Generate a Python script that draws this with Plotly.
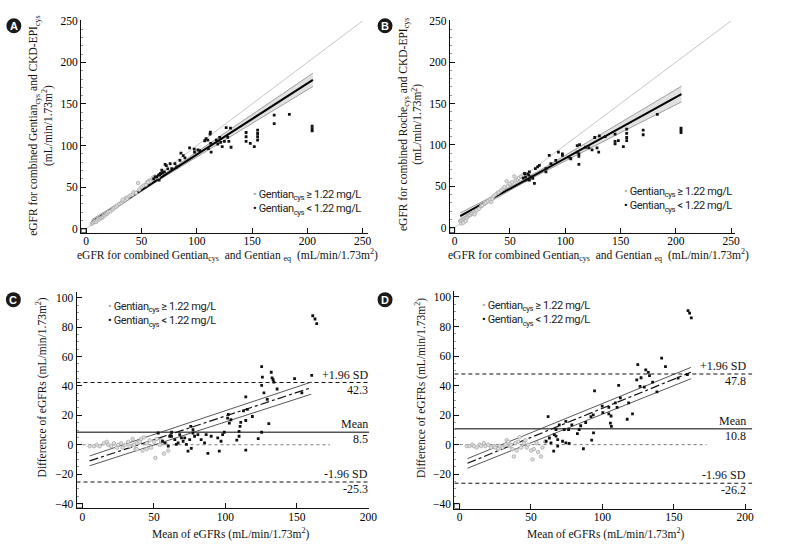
import plotly.graph_objects as go

W, H = 787, 548

# ---------------- DATA ----------------
# Panel A: combined Gentian(cys+eq) vs combined Gentian(cys)+CKD-EPI(cys)
a_gray_x = [5, 6, 7, 8, 9, 10, 11, 12, 13, 14, 15, 16, 17, 18, 19, 20, 22, 24, 25, 27, 28, 30, 32, 33, 35,
            36, 38, 40, 42, 43, 45, 47, 48, 50, 52, 54, 55, 57, 58, 60, 62, 64, 65, 56, 33, 37]
a_gray_y = [6, 7, 8, 9, 8, 10, 12, 11, 13, 13, 14, 16, 16, 18, 18, 20, 21, 23, 25, 26, 28, 30, 31, 33, 34,
            37, 38, 40, 41, 44, 43, 55, 47, 50, 52, 53, 56, 58, 57, 61, 63, 62, 62, 56, 35, 36]
a_black_x = [112.3, 112, 110, 112.6, 110.5, 113, 117.7, 119, 123, 125, 126.6, 130.5, 128, 129, 131,
             144.6, 144.6, 144.6, 148.4, 152, 155, 155, 155, 155, 170, 170, 183.7, 204.3, 204.3, 204.3,
             85.7, 93.5, 97.7, 101, 98, 89.3, 84.8, 80.3, 75.9, 71.4, 73.8, 70.8, 67.2, 65.4, 63.9, 68.4,
             66, 62.4, 77.4, 81.8, 87.8, 102.7, 107.2, 108.4, 120.7, 121.6, 69, 66.5, 61, 72.5]
a_black_y = [116, 113.7, 106.6, 102.7, 96.4, 92, 106.6, 101.9, 98.7, 105, 121.6, 120.9, 109.8, 105, 98,
             115.7, 110.6, 105, 102.7, 98.7, 118.5, 114.5, 110.6, 106.6, 136.7, 126.4, 137.4, 123.2, 120, 117.7,
             90.8, 97.2, 95.6, 94.8, 92, 85.3, 82.1, 78.2, 78.2, 77.4, 71.9, 68.3, 66.4, 64.4, 62.4, 70.3,
             58.5, 62.4, 72.3, 74.2, 88, 94, 105.8, 108.2, 109.8, 103.9, 67, 65, 60, 76]
a_fit_x = [5, 60, 120, 205]
a_fit_y = [8, 55, 106.3, 179]
a_band_lo = [5, 53.5, 102.3, 171]
a_band_hi = [11, 56.5, 110.3, 187]

# Panel B: combined Gentian(cys+eq) vs combined Roche(cys)+CKD-EPI(cys)
b_gray_x = [5, 6, 7, 8, 9, 10, 11, 12, 13, 14, 15, 16, 17, 18, 20, 22, 24, 25, 27, 28, 30, 32, 34, 35, 37,
            39, 40, 42, 44, 45, 47, 48, 50, 52, 54, 55, 57, 58, 60, 62, 6, 8, 10, 18, 33]
b_gray_y = [8, 7, 9, 10, 11, 12, 12, 14, 15, 15, 17, 17, 19, 18, 21, 23, 26, 27, 29, 30, 32, 34, 35, 38, 40,
            42, 43, 45, 47, 49, 56, 50, 53, 55, 62, 57, 58, 60, 62, 64, 5, 6, 8, 16, 31]
b_black_x = [85.5, 93.8, 97.4, 97.4, 110.8, 112.9, 112.3, 112.3, 112.3, 118.3, 121.3, 124.2, 126.6, 128.7,
             130.2, 130.8, 136.1, 145, 145, 145, 148, 152.5, 155.5, 155.5, 155.5, 155.5, 170.4, 170.4,
             183.2, 204.6, 204.6, 204.6, 63.2, 64.1, 67.6, 67, 69.1, 72.1, 73, 75, 76.6, 82.5, 82.5, 87,
             91.4, 103.4, 105, 110.8, 67.6, 64.6, 70.6, 62, 66]
b_black_y = [87.3, 91.3, 89.3, 87.3, 99.2, 100.4, 89.3, 86.1, 76.6, 97.2, 96.4, 94, 109, 96.4, 91.3, 111,
             110, 113, 104.4, 101.2, 105.2, 98, 119, 113.9, 109, 105.2, 117.9, 112.3, 137, 120.2, 117.9, 115,
             65.5, 61.5, 67.5, 63.5, 61.5, 53.6, 71.4, 73.4, 75.4, 71.4, 67.5, 77.4, 81.3, 85.3, 83.3, 91.3,
             57.5, 57.5, 59.5, 60, 65]
b_fit_x = [5, 60, 120, 205]
b_fit_y = [13.9, 54.5, 98.8, 161.5]
b_band_lo = [10, 52.5, 94.3, 152]
b_band_hi = [17.8, 56.5, 103.3, 171]

# Panel C: Bland-Altman, Gentian combined vs CKD-EPI combined
c_gray_x = [5, 8, 10, 12, 15, 17, 18, 20, 22, 24, 25, 27, 28, 30, 32, 33, 35, 36, 37, 38, 40, 41, 42, 43,
            45, 47, 48, 50, 51, 52, 54, 55, 57, 58, 60, 55, 45, 38]
c_gray_y = [-1, -1, 0, -1, 1, 2, 0, -1, 1, -2, 0, 1, -2, 0, 2, -1, 4, 0, -3, 1, 2, 4, -4, 5,
            1, 3, -2, 2, -9, 4, 0, 2, -6, 1, -4, 3, -3, -3]
c_black_x = [161, 162.6, 163.8, 160.3, 148.3, 132, 132.6, 133.3, 133.8, 125.3, 125.8, 125.3, 126.9, 129.2,
             136.1, 114.2, 115.3, 112.6, 118.8, 114.2, 110.7, 110.2, 109.5, 109.5, 107.9, 114.2, 102, 102.7,
             103.8, 101.5, 130.3, 125.3, 122.9, 153.4, 53, 56, 57.7, 60, 61, 62.3, 64.6, 65.7, 66.9, 68,
             69.2, 70.4, 71.5, 72.7, 73.8, 75, 76.1, 77.3, 78.4, 80.7, 83, 85.4, 86.5, 87.7, 90, 94.6,
             95.7, 96.9, 98, 99.2, 75.7, 77.3, 62.3]
c_black_y = [87.7, 85.5, 82.4, 47.1, 44.9, 49.3, 45.5, 44.2, 42.6, 53.1, 46, 40.4, 35.3, 30.8, 37.9, 32.6,
             24.1, 23, 19.2, 16.5, 15.2, 12.5, 9.1, 5.8, 3.1, -3.6, 20.7, 14.7, 17, 18.1, 14.3, 8.5, 4.2,
             35.3, 8, 2.4, 1.3, -0.9, 5.8, 8.5, 3.5, 0.2, 1.3, 6.9, 4.7, 2.4, 4.7, 0.2, -4.3, 3.5, -2.5, 8,
             5.8, 6.9, 3.5, 1.3, 6.9, -5.8, 5.8, 4.7, -4.3, 2.4, 6.9, 8.5, 12.5, 10.3, 5.8]
c_fit_x = [5, 160]
c_fit_y = [-11, 38.8]
c_ci_lo = [-14.3, 34.4]
c_ci_hi = [-7.6, 42.6]
c_mean, c_upper, c_lower = 8.5, 42.3, -25.3
c_zero_x = [0, 173]

# Panel D: Bland-Altman, Gentian combined vs Roche combined
d_gray_x = [5, 7, 9, 10, 12, 14, 15, 17, 18, 20, 22, 24, 25, 27, 28, 30, 32, 33, 34, 35, 36, 37, 38, 39,
            40, 41, 42, 43, 45, 46, 47, 48, 50, 51, 52, 54, 55, 57, 58, 60]
d_gray_y = [-1, -1, 0, -1, -2, 0, -1, 1, -1, 0, -2, -1, -2, -3, -1, -2, 0, 3, 2, -1, 0, -3, -8, 1,
            -4, 2, 5, -2, 1, 3, -2, 0, -4, -10, -3, 1, -5, -8, -2, 2]
d_black_x = [160, 161.1, 162.3, 141.5, 144.2, 124.8, 130.4, 132.2, 133, 127.1, 124.1, 135.2, 126.4, 129.4,
             138.2, 111.4, 112.6, 118.4, 109.1, 110.3, 99.9, 100.3, 104.5, 106.1, 105.6, 106.3, 104.5, 121.1,
             117.4, 94.5, 92, 93.6, 93.8, 92.5, 88.3, 84.8, 83.7, 82.5, 86.7, 62, 69.8, 74.4, 73.3, 76.3,
             78.6, 67.5, 66.3, 62.9, 68.7, 64, 65.9, 68.7, 72.1, 74.4, 76.7, 60.6, 67.5, 159.5, 153]
d_black_y = [90.7, 89.1, 85.8, 58.6, 52.8, 54.2, 50.6, 49, 46.8, 45.3, 43.9, 42.4, 39.5, 39, 35.7, 40.1,
             31.7, 28.3, 28.3, 25.2, 26.1, 21.7, 25.2, 19.4, 14.6, 12.3, 20.8, 20.8, 17.2, 36.4, 19, 20.1,
             7.9, 3, 15, 12.8, 10.1, 7.4, -2.8, 19, 13.4, 15.7, 10.1, 10.1, 13.4, 10.1, 6.8, 4.5, 3.4, 1.2,
             -4.4, -1, 2.3, 1.2, 0.8, 2.3, 5.7, 47.5, 45]
d_fit_x = [5.5, 162]
d_fit_y = [-12.6, 49]
d_ci_lo = [-16, 44.6]
d_ci_hi = [-9.5, 52.3]
d_mean, d_upper, d_lower = 10.8, 47.8, -26.2
d_zero_x = [0, 173]

ticks_ab = [0, 50, 100, 150, 200, 250]
ticks_cd_x = [0, 50, 100, 150, 200]
ticks_cd_y = [-40, -20, 0, 20, 40, 60, 80, 100]

# ---------------- STYLE ----------------
SERIF = "Liberation Serif, Times New Roman, serif"
NARROW = "Roboto, Liberation Sans, sans-serif"
GRAY_PT = "#a8a8a8"
fig = go.Figure()


def px_x(p):
    return p / W


def px_y(p):
    return 1 - p / H


def add_scatter(ax, gx, gy, bx, by):
    xa, ya = ax
    fig.add_trace(go.Scatter(x=gx, y=gy, mode="markers", xaxis=xa, yaxis=ya, showlegend=False,
                             marker=dict(symbol="circle", size=3.5, color="#e0e0e0",
                                         line=dict(color=GRAY_PT, width=0.8))))
    fig.add_trace(go.Scatter(x=bx, y=by, mode="markers", xaxis=xa, yaxis=ya, showlegend=False,
                             marker=dict(symbol="square", size=2.8, color="#111")))


def add_fit_band(ax, fx, fy, lo, hi, xmax):
    xa, ya = ax
    fig.add_trace(go.Scatter(x=[0, xmax], y=[0, xmax], mode="lines", xaxis=xa, yaxis=ya, showlegend=False,
                             line=dict(color="#c8c8c8", width=1)))
    fig.add_trace(go.Scatter(x=fx, y=lo, mode="lines", xaxis=xa, yaxis=ya, showlegend=False,
                             line=dict(color="#8a8a8a", width=0.8, shape="spline")))
    fig.add_trace(go.Scatter(x=fx, y=hi, mode="lines", xaxis=xa, yaxis=ya, showlegend=False,
                             fill="tonexty", fillcolor="rgba(200,200,200,0.55)",
                             line=dict(color="#8a8a8a", width=0.8, shape="spline")))
    fig.add_trace(go.Scatter(x=fx, y=fy, mode="lines", xaxis=xa, yaxis=ya, showlegend=False,
                             line=dict(color="#000", width=2)))


def add_ba(ax, fx, fy, lo, hi, zx, mean, up, low, xr):
    xa, ya = ax
    for yv, dash, col, wd in [(up, "4px,3px", "#111", 1.1), (low, "4px,3px", "#111", 1.1),
                              (mean, "solid", "#555", 1.4)]:
        fig.add_trace(go.Scatter(x=xr, y=[yv, yv], mode="lines", xaxis=xa, yaxis=ya, showlegend=False,
                                 line=dict(color=col, width=wd, dash=dash)))
    fig.add_trace(go.Scatter(x=zx, y=[0, 0], mode="lines", xaxis=xa, yaxis=ya, showlegend=False,
                             line=dict(color="#777", width=1, dash="dot")))
    for yy in (lo, hi):
        fig.add_trace(go.Scatter(x=fx, y=yy, mode="lines", xaxis=xa, yaxis=ya, showlegend=False,
                                 line=dict(color="#444", width=0.9)))
    fig.add_trace(go.Scatter(x=fx, y=fy, mode="lines", xaxis=xa, yaxis=ya, showlegend=False,
                             line=dict(color="#111", width=1.2, dash="dashdot")))


# Panel geometry (pixel) and ranges
panels = {
    "A": dict(ax=("x", "y"), xd=(82, 372), yd=(230, 14.6), xr=[-4.5, 255], yr=[-4.7, 250.5]),
    "B": dict(ax=("x2", "y2"), xd=(454.3, 743), yd=(230, 14.6), xr=[-4.47, 253.8], yr=[-6, 250.5]),
    "C": dict(ax=("x3", "y3"), xd=(77.3, 373), yd=(509.3, 290), xr=[-4.15, 200.5], yr=[-42.9, 104]),
    "D": dict(ax=("x4", "y4"), xd=(459, 760), yd=(510, 289.3), xr=[-3.7, 205], yr=[-43.3, 104]),
}

add_fit_band(panels["A"]["ax"], a_fit_x, a_fit_y, a_band_lo, a_band_hi, 250)
add_scatter(panels["A"]["ax"], a_gray_x, a_gray_y, a_black_x, a_black_y)
add_fit_band(panels["B"]["ax"], b_fit_x, b_fit_y, b_band_lo, b_band_hi, 250)
add_scatter(panels["B"]["ax"], b_gray_x, b_gray_y, b_black_x, b_black_y)
add_ba(panels["C"]["ax"], c_fit_x, c_fit_y, c_ci_lo, c_ci_hi, c_zero_x, c_mean, c_upper, c_lower,
       panels["C"]["xr"])
add_scatter(panels["C"]["ax"], c_gray_x, c_gray_y, c_black_x, c_black_y)
add_ba(panels["D"]["ax"], d_fit_x, d_fit_y, d_ci_lo, d_ci_hi, d_zero_x, d_mean, d_upper, d_lower,
       panels["D"]["xr"])
add_scatter(panels["D"]["ax"], d_gray_x, d_gray_y, d_black_x, d_black_y)

layout = dict(width=W, height=H, margin=dict(l=0, r=0, t=0, b=0), paper_bgcolor="white",
              plot_bgcolor="white", showlegend=False)
axis_common = dict(showline=True, linecolor="#111", linewidth=1, ticks="inside", ticklen=5,
                   tickcolor="#111", showgrid=False, zeroline=False, mirror=False,
                   tickfont=dict(family=SERIF, size=11.5, color="#000"))
for key, p in panels.items():
    xa, ya = p["ax"]
    xname = "xaxis" + xa[1:]
    yname = "yaxis" + ya[1:]
    if key in ("A", "B"):
        xt, yt = ticks_ab, ticks_ab
    else:
        xt, yt = ticks_cd_x, ticks_cd_y
    layout[xname] = dict(axis_common, domain=[px_x(p["xd"][0]), px_x(p["xd"][1])], range=p["xr"],
                         tickvals=xt, anchor=ya, ticklabelstandoff=-2)
    layout[yname] = dict(axis_common, domain=[px_y(p["yd"][0]), px_y(p["yd"][1])], range=p["yr"],
                         tickvals=yt, anchor=xa,
                         minor=dict(ticks="inside", ticklen=2, tickcolor="#999", dtick=5 if key in "CD" else 10))

fig.update_layout(**layout)

shapes = []
annotations = []

# small corner boxes at origin
for key, corner in [("A", (0, 0)), ("B", (0, 0)), ("C", (0, -40)), ("D", (0, -40))]:
    p = panels[key]
    xa, ya = p["ax"]
    shapes.append(dict(type="rect", xref=xa, yref=ya, x0=p["xr"][0], x1=corner[0], y0=p["yr"][0],
                       y1=corner[1], line=dict(color="#111", width=1)))

# panel letters
for letter, (cx, cy) in {"A": (14, 20), "B": (389, 20), "C": (13.5, 298), "D": (389, 298)}.items():
    shapes.append(dict(type="circle", xref="paper", yref="paper", xsizemode="pixel", ysizemode="pixel",
                       xanchor=px_x(cx), yanchor=px_y(cy), x0=-7.5, x1=7.5, y0=-7.5, y1=7.5,
                       fillcolor="#1a1a1a", line=dict(width=0)))
    annotations.append(dict(text="<b>%s</b>" % letter, xref="paper", yref="paper", x=px_x(cx), y=px_y(cy),
                            showarrow=False, xanchor="center", yanchor="middle",
                            font=dict(family="Liberation Sans, Arial", size=11, color="white")))


def ann(text, cx, cy, size=11.5, angle=0, family=SERIF, xanchor="center", color="#111"):
    annotations.append(dict(text=text, xref="paper", yref="paper", x=px_x(cx), y=px_y(cy),
                            showarrow=False, xanchor=xanchor, yanchor="middle", textangle=angle,
                            borderpad=0, font=dict(family=family, size=size, color=color)))


unit = "(mL/min/1.73m<sup>2</sup>)"
xt_ab = "eGFR for combined Gentian<sub>cys</sub>  and Gentian <sub>eq</sub>  " + unit
ann(xt_ab, 230, 253)
ann(xt_ab, 605, 253)
ann("eGFR for combined Gentian<sub>cys</sub> and CKD-EPI<sub>cys</sub><br>" + unit, 42, 122, angle=-90)
ann("eGFR for combined Roche<sub>cys</sub> and CKD-EPI<sub>cys</sub><br>" + unit, 415, 120, angle=-90)
ann("Mean of eGFRs " + unit, 233, 535)
ann("Mean of eGFRs " + unit, 612, 535)
ann("Difference of eGFRs " + unit, 41.5, 387, angle=-90)
ann("Difference of eGFRs " + unit, 425, 388, angle=-90)

# legends
cond = "<span style='letter-spacing:-0.4px'>%s</span>"
leg_txt = (cond % "<span style='color:#aaaaaa'>•</span> Gentian<sub>cys</sub> ≥ 1.22 mg/L") + "<br>" + \
          (cond % "<span style='color:#000'>•</span> Gentian<sub>cys</sub> < 1.22 mg/L")
for (lx, ly) in [(255, 199.5), (629, 196), (108, 313), (486, 312.5)]:
    ann(leg_txt, lx, ly, size=11, family=NARROW, xanchor="left", color="#222")

# Bland-Altman labels (right edge in pixels)
for (key, up, mean, low, rx) in [("C", c_upper, c_mean, c_lower, 373), ("D", d_upper, d_mean, d_lower, 755)]:
    xa, ya = panels[key]["ax"]
    for yv, top in [(up, "+1.96 SD"), (mean, "Mean"), (low, "-1.96 SD")]:
        annotations.append(dict(text=top, xref="paper", yref=ya, x=px_x(rx), y=yv, yshift=0, showarrow=False,
                                xanchor="right", yanchor="bottom", borderpad=0,
                                font=dict(family=SERIF, size=12, color="#111")))
        annotations.append(dict(text="%.1f" % yv, xref="paper", yref=ya, x=px_x(rx), y=yv, yshift=1,
                                showarrow=False, xanchor="right", yanchor="top", borderpad=0,
                                font=dict(family=SERIF, size=12, color="#111")))

fig.update_layout(shapes=shapes, annotations=annotations)
fig.write_html("out.html", config={"displayModeBar": False},
               post_script="document.body.style.margin='0';document.documentElement.style.overflow='hidden';")
